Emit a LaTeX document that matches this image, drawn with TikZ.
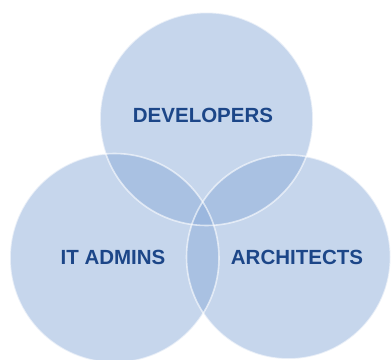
\documentclass[tikz,border=0pt]{standalone}
\usepackage{fontspec}
\setmainfont{Liberation Sans}
\definecolor{vfill}{RGB}{141,173,217}
\definecolor{vtext}{RGB}{28,70,136}
\begin{document}
\begin{tikzpicture}[x=1pt,y=-1pt,
  venn/.style={circle, inner sep=0pt, fill=vfill, fill opacity=0.5},
  vedge/.style={circle, inner sep=0pt, draw=white, draw opacity=0.6, line width=1.6pt},
  label/.style={text=vtext, font=\fontsize{20.5}{24}\selectfont\bfseries}]
\useasboundingbox (0,0) rectangle (391,359);
\node[venn, minimum size=213pt] (top) at (206.5,119) {};
\node[venn, minimum size=209pt] (left) at (114.5,258) {};
\node[venn, minimum size=204pt] (right) at (288.5,257) {};
\node[vedge, minimum size=213pt] (topedge) at (top.center) {};
\node[vedge, minimum size=209pt] (leftedge) at (left.center) {};
\node[vedge, minimum size=204pt] (rightedge) at (right.center) {};
\node[label] (dev) at (203,115) {DEVELOPERS};
\node[label] (itadm) at (113,257) {IT ADMINS};
\node[label] (arch) at (297,257) {ARCHITECTS};
\end{tikzpicture}
\end{document}
